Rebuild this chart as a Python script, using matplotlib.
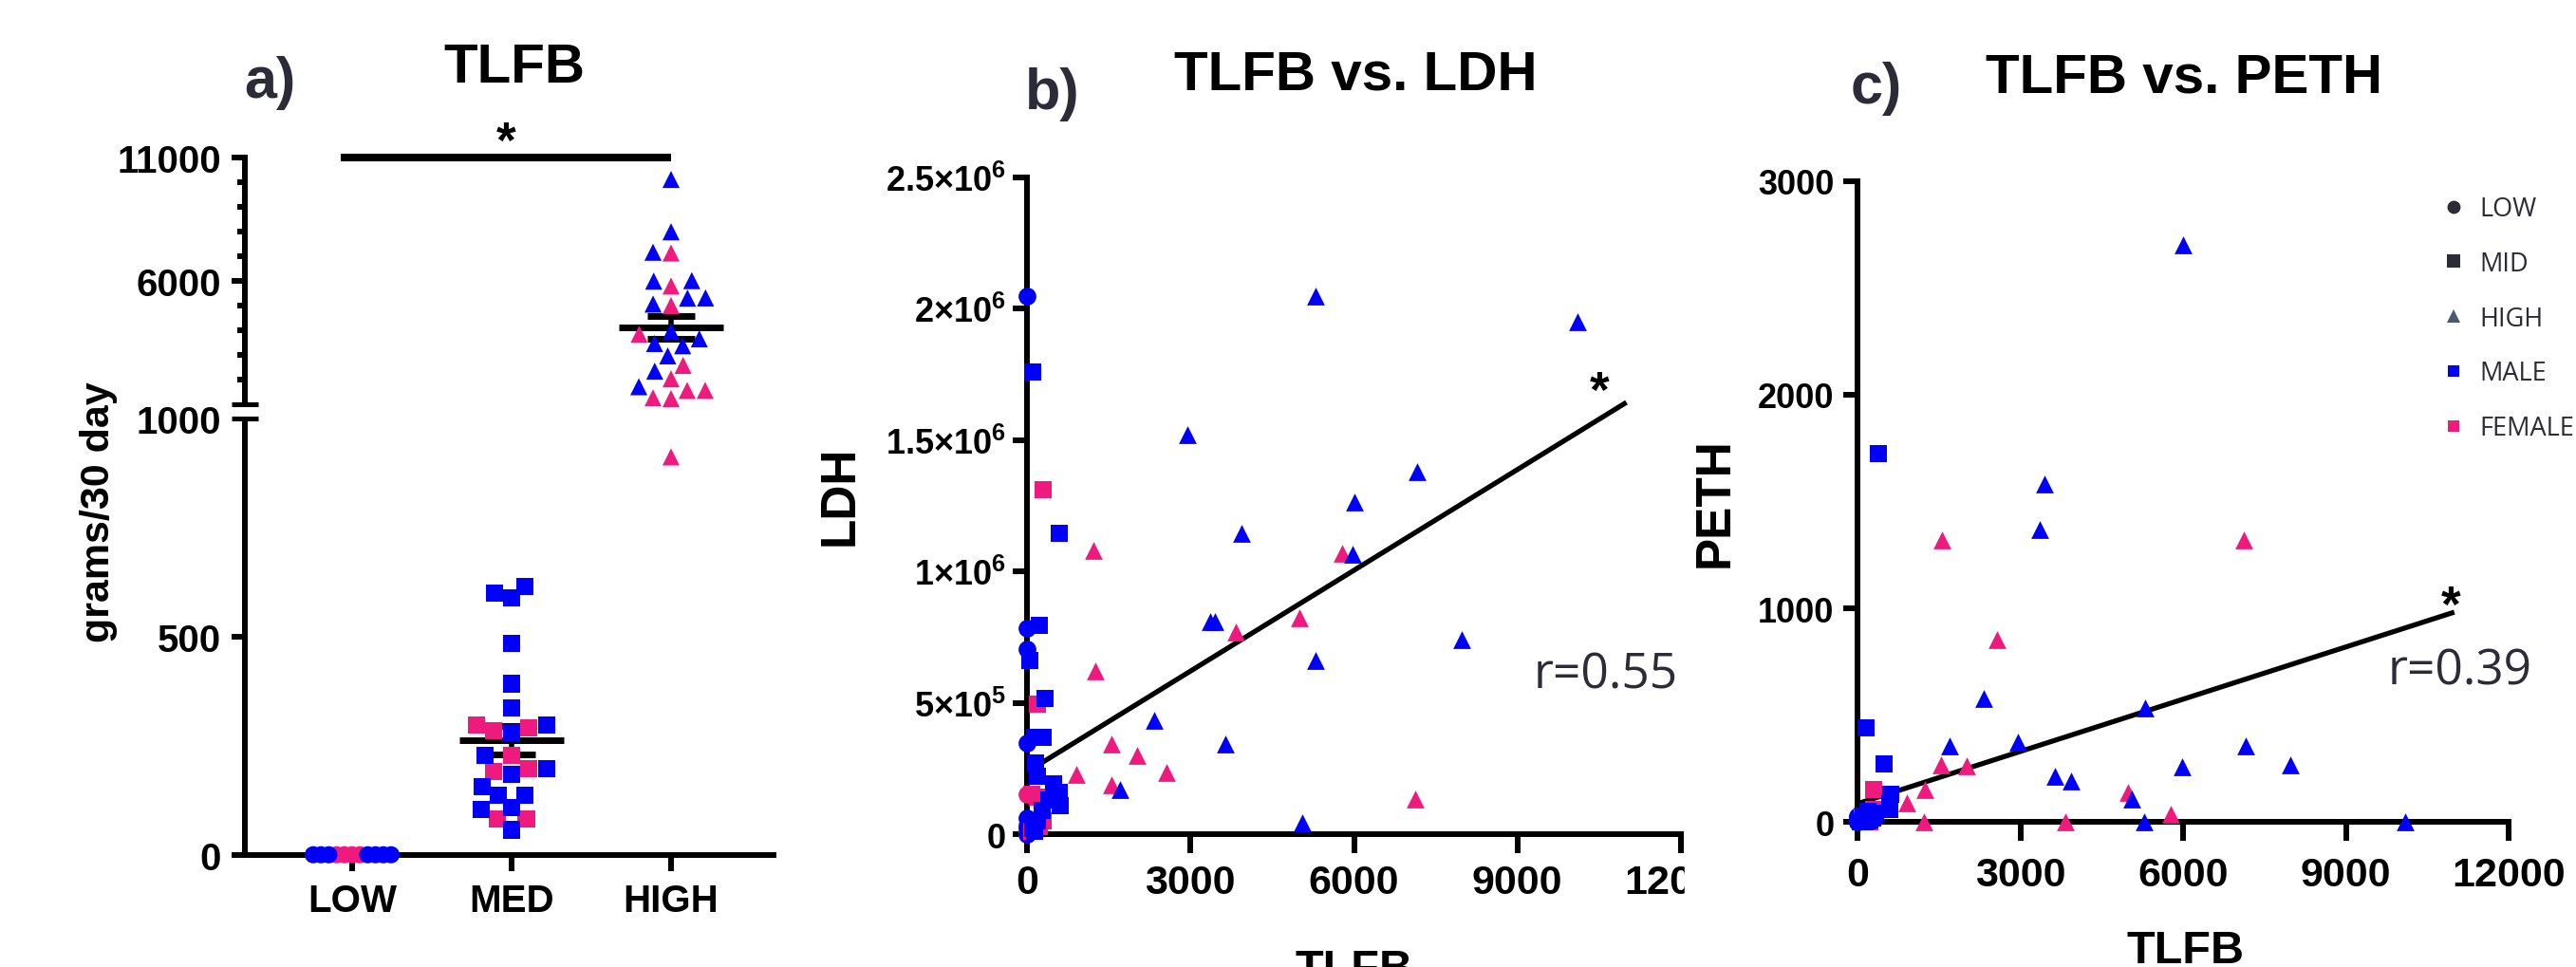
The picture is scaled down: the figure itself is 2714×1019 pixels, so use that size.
import numpy as np
import matplotlib
matplotlib.use("Agg")
import matplotlib.pyplot as plt
import matplotlib.transforms as mtransforms
from matplotlib import font_manager
from matplotlib.lines import Line2D
from matplotlib.patches import Rectangle

# per-person values: TLFB (grams/30 day), LDH, PETH
low_m_tlfb = [0, 0, 0, 0, 0, 0, 0]
low_m_ldh = [2.05e6, 7.83e5, 7.04e5, 3.46e5, 6.0e4, 2.5e4, 0]
low_m_peth = [0, 10, 20, 0, 30, 5, 15]
low_f_tlfb = [0, 0, 0, 0]
low_f_ldh = [1.5e5, 3.5e4, 1.0e4, 0]
low_f_peth = [0, 10, 5, 25]

med_m_tlfb = [616, 599, 588, 484, 392, 336, 297, 279, 227, 198, 184, 156, 137, 137, 109, 103, 57]
med_m_ldh = [1.1e5, 1.145e6, 1.6e5, 1.9e5, 1.3e5, 5.15e5, 3.7e5, 9.0e4, 7.95e5, 5.0e4,
             2.2e5, 2.7e5, 3.7e5, 1.0e4, 1.76e6, 2.0e4, 6.62e5]
med_m_peth = [130, 60, 90, 270, 1725, 40, 30, 20, 10, 5, 50, 440, 20, 0, 10, 30, 0]
med_f_tlfb = [297, 290, 285, 227, 198, 191, 81, 81]
med_f_ldh = [1.31e6, 5.0e4, 1.2e5, 3.0e4, 1.4e5, 4.95e5, 1.5e5, 1.0e4]
med_f_peth = [154, 60, 20, 0, 40, 10, 0, 30]

high_m_tlfb = [10100, 7980, 7150, 6000, 5980, 5300, 5290, 5050, 3940, 3640, 3450, 3360, 2950, 2330, 1700]
high_m_ldh = [1.95e6, 7.4e5, 1.38e6, 1.265e6, 1.065e6, 2.05e6, 6.6e5, 4.2e4, 1.145e6, 3.43e5,
              8.1e5, 8.1e5, 1.52e6, 4.35e5, 1.69e5]
high_m_peth = [0, 266, 358, 2700, 258, 533, 0, 107, 192, 213, 1580, 1370, 375, 577, 355]
high_f_tlfb = [7120, 5780, 4990, 3830, 2565, 2020, 1550, 1548, 1250, 1220, 912]
high_f_ldh = [1.32e5, 1.07e6, 8.25e5, 7.7e5, 2.35e5, 3.0e5, 3.43e5, 1.87e5, 6.2e5, 1.08e6, 2.29e5]
high_f_peth = [1320, 35, 139, 0, 855, 265, 1320, 268, 154, 0, 89]

groups = ["LOW", "MED", "HIGH"]
legend_labels = ["LOW", "MID", "HIGH", "MALE", "FEMALE"]

# fitted lines as drawn in the figure (intercept, slope) and their x range
ldh_fit = (2.37e5, 127.9)
peth_fit = (86.0, 0.0815)
fit_range = [0, 11000]
ldh_r = "r=0.55"
peth_r = "r=0.39"

BLUE = "#0000fa"
PINK = "#ef1a7d"
DARK = "#2b2c38"
LW = 4.3

plt.rcParams["font.family"] = ["Liberation Sans", "DejaVu Sans"]
plt.rcParams["font.weight"] = "bold"
plt.rcParams["mathtext.fontset"] = "custom"
plt.rcParams["mathtext.rm"] = "Liberation Sans:bold"
plt.rcParams["mathtext.it"] = "Liberation Sans:bold"
plt.rcParams["mathtext.bf"] = "Liberation Sans:bold"

# titles in the original are set in a condensed bold face
installed = {f.name for f in font_manager.fontManager.ttflist}
if "Liberation Sans Narrow" in installed:
    title_font = dict(fontfamily="Liberation Sans Narrow", fontsize=50)
else:
    title_font = dict(fontfamily="Liberation Sans", fontsize=42)

W, H = 2714, 1020
fig = plt.figure(figsize=(W / 100, H / 100), dpi=100)


def fx(px):
    return px / W


def fy(py):
    return 1 - py / H


def box(l, t, r, b):
    return [fx(l), fy(b), (r - l) / W, (b - t) / H]


def style(ax, ylen, xlen, ypad, xpad, ysize, xsize):
    for s in ["top", "right"]:
        ax.spines[s].set_visible(False)
    for s in ["left", "bottom"]:
        ax.spines[s].set_linewidth(LW)
    ax.tick_params(axis="y", length=ylen, width=LW, pad=ypad, labelsize=ysize)
    ax.tick_params(axis="x", length=xlen, width=LW, pad=xpad, labelsize=xsize)
    ax.patch.set_alpha(0)


def swarm_x(ax, xc, vals, d=19.0, w=41.0):
    vals = np.asarray(vals, float)
    yp = ax.transData.transform(np.column_stack([np.full(len(vals), xc), vals]))[:, 1]
    off = np.zeros(len(vals))
    done = []
    for i in np.argsort(yp, kind="stable"):
        near = [j for j in done if abs(yp[j] - yp[i]) < d]
        cands = [0.0]
        for j in near:
            h = np.sqrt(d ** 2 - (yp[j] - yp[i]) ** 2)
            cands += [off[j] - h, off[j] + h]
        for c in sorted(cands, key=abs):
            if all((c - off[j]) ** 2 + (yp[i] - yp[j]) ** 2 >= d ** 2 - 0.01 for j in near):
                off[i] = c
                break
        done.append(i)
    if np.abs(off).max() > w:
        off *= w / np.abs(off).max()
    unit = ax.transData.transform([(1, 0)])[0, 0] - ax.transData.transform([(0, 0)])[0, 0]
    return xc + off / unit


# ---------- a) broken axis dot plot ----------
K = 0.05656
G = 33.3


def fwd(v):
    v = np.asarray(v, float)
    return np.where(v <= 1000, v, 1000 + G + (v - 1000) * K)


def inv(u):
    u = np.asarray(u, float)
    return np.where(u <= 1000, u, 1000 + (u - 1000 - G) / K)


ax_a = fig.add_axes(box(258, 166.7, 815, 901.7))
ax_a.set_yscale("function", functions=(fwd, inv))
ax_a.set_ylim(0, 11000)
ax_a.set_xlim(-0.673, 2.643)
style(ax_a, 10, 12, 8, 9, 29, 29)
ax_a.spines["left"].set_visible(False)
ax_a.set_yticks([0, 500, 1000, 6000, 11000])
ax_a.set_yticklabels(["0", "500", "1000", "6000", "11000"])
ax_a.set_yticks([2000, 3000, 4000, 5000, 7000, 8000, 9000, 10000], minor=True)
ax_a.tick_params(axis="y", which="minor", length=5.5, width=LW)
ax_a.set_xticks(range(len(groups)))
ax_a.set_xticklabels(groups)
ax_a.yaxis.get_major_ticks()[2].tick1line.set_visible(False)

trans = mtransforms.blended_transform_factory(ax_a.transAxes, ax_a.transData)
ax_a.plot([0, 0], [0, 1000], transform=trans, color="k", lw=LW, clip_on=False, solid_capstyle="butt")
ax_a.plot([0, 0], [1000.001, 11000], transform=trans, color="k", lw=LW, clip_on=False,
          solid_capstyle="projecting")
for yb in [1000, 1000.001]:
    ax_a.plot([0], [yb], transform=trans, marker="_", ms=20.5, mew=LW * 0.85, color="k", clip_on=False)

group_data = [
    (low_f_tlfb, low_m_tlfb, "o"),
    (med_f_tlfb, med_m_tlfb, "s"),
    (high_f_tlfb, high_m_tlfb, "^"),
]
for i, (fv, mv, mk) in enumerate(group_data):
    vals = np.array(list(fv) + list(mv), float)
    cols = [PINK] * len(fv) + [BLUE] * len(mv)
    xs = swarm_x(ax_a, i, vals)
    ax_a.scatter(xs, vals, s=13 ** 2, marker=mk, c=cols, linewidths=0, clip_on=False, zorder=3)
    m = vals.mean()
    se = vals.std(ddof=1) / np.sqrt(len(vals))
    ax_a.plot([i - 0.33, i + 0.33], [m, m], color="k", lw=5, zorder=2, solid_capstyle="butt")
    for e in [m - se, m + se]:
        ax_a.plot([i - 0.15, i + 0.15], [e, e], color="k", lw=5, zorder=2, solid_capstyle="butt")
    ax_a.plot([i, i], [m - se, m + se], color="k", lw=4, zorder=2)

ax_a.plot([-0.07, 2], [11000, 11000], color="k", lw=5.8, clip_on=False, solid_capstyle="butt")

# ---------- b) and c) scatter plots ----------
ax_b = fig.add_axes(box(1082, 188, 1771, 880))
ax_c = fig.add_axes(box(1957, 191.7, 2643, 867.3))

sets_b = [
    (low_f_tlfb, low_f_ldh, "o", PINK), (low_m_tlfb, low_m_ldh, "o", BLUE),
    (med_f_tlfb, med_f_ldh, "s", PINK), (med_m_tlfb, med_m_ldh, "s", BLUE),
    (high_f_tlfb, high_f_ldh, "^", PINK), (high_m_tlfb, high_m_ldh, "^", BLUE),
]
sets_c = [
    (low_f_tlfb, low_f_peth, "o", PINK), (low_m_tlfb, low_m_peth, "o", BLUE),
    (med_f_tlfb, med_f_peth, "s", PINK), (med_m_tlfb, med_m_peth, "s", BLUE),
    (high_f_tlfb, high_f_peth, "^", PINK), (high_m_tlfb, high_m_peth, "^", BLUE),
]

for ax, sets, fit, ymax in [(ax_b, sets_b, ldh_fit, 2.5e6), (ax_c, sets_c, peth_fit, 3000)]:
    ax.set_xlim(0, 12000)
    ax.set_ylim(0, ymax)
    for xs, ys, mk, col in sets:
        ax.scatter(xs, ys, s=13.5 ** 2, marker=mk, c=col, linewidths=0, clip_on=False, zorder=3)
    fxv = np.array(fit_range, float)
    ax.plot(fxv, fit[0] + fit[1] * fxv, color="k", lw=3.8, zorder=2, solid_capstyle="butt")
    ax.set_xticks([0, 3000, 6000, 9000, 12000])

style(ax_b, 10.8, 14.4, 5, 8, 26, 31)
style(ax_c, 10.8, 14.4, 7, 11, 26, 31)
ax_b.set_yticks([0, 5e5, 1e6, 1.5e6, 2e6, 2.5e6])
ax_b.set_yticklabels(["0", "5×$10^{5}$", "1×$10^{6}$", "1.5×$10^{6}$", "2×$10^{6}$", "2.5×$10^{6}$"])
ax_c.set_yticks([0, 1000, 2000, 3000])

# panel c covers the end of panel b's last tick label
fig.add_artist(Rectangle((fx(1775), 0), fx(1900) - fx(1775), fy(902), color="white",
                         zorder=10, transform=fig.transFigure))

# ---------- text ----------
fig.text(fx(284), fy(88), "a)", fontsize=44, color=DARK, ha="center", va="center")
fig.text(fx(542), fy(72), "TLFB", ha="center", va="center", **title_font)
fig.text(fx(1109), fy(99), "b)", fontsize=44, color=DARK, ha="center", va="center")
fig.text(fx(1428), fy(80), "TLFB vs. LDH", ha="center", va="center", **title_font)
fig.text(fx(1977), fy(93), "c)", fontsize=44, color=DARK, ha="center", va="center")
fig.text(fx(2301), fy(82), "TLFB vs. PETH", ha="center", va="center", **title_font)

fig.text(fx(104), fy(540), "grams/30 day", fontsize=31, rotation=90, ha="center", va="center")
fig.text(fx(885), fy(522), "LDH", fontsize=37, rotation=90, ha="center", va="center")
fig.text(fx(1807), fy(530), "PETH", fontsize=37, rotation=90, ha="center", va="center")
fig.text(fx(1427), fy(1000), "TLFB", fontsize=35, ha="center", va="top")
fig.text(fx(2303), fy(980), "TLFB", fontsize=35, ha="center", va="top")

for sx, sy in [(533, 166), (1685, 429), (2582, 655)]:
    fig.text(fx(sx), fy(sy), "*", fontsize=38, ha="center", va="baseline")

r_font = dict(fontfamily="Open Sans", fontweight="normal", fontsize=37, color=DARK,
              ha="right", va="baseline")
fig.text(fx(1768), fy(725), ldh_r, **r_font)
fig.text(fx(2668), fy(722), peth_r, **r_font)

handles = [
    Line2D([], [], ls="", marker="o", ms=10, color=DARK, mew=0),
    Line2D([], [], ls="", marker="s", ms=10.5, color=DARK, mew=0),
    Line2D([], [], ls="", marker="^", ms=9.5, color="#4a5a6e", mew=0),
    Line2D([], [], ls="", marker="s", ms=9.2, color=BLUE, mew=0),
    Line2D([], [], ls="", marker="s", ms=9.2, color=PINK, mew=0),
]
fig.legend(handles, legend_labels, loc="upper left", bbox_to_anchor=(fx(2574), fy(207)),
           frameon=False, prop={"family": "Open Sans", "size": 19.5, "weight": "normal"},
           labelcolor=DARK, handlelength=0.8, handletextpad=0.6, labelspacing=1.1,
           borderpad=0, borderaxespad=0)

fig.savefig("out.png", dpi=100)
